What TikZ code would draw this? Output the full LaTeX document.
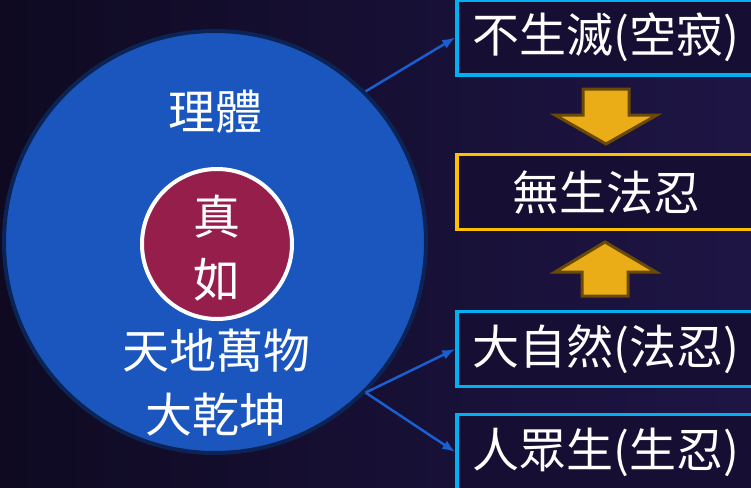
\documentclass[tikz,border=0pt]{standalone}
\usepackage{fontspec}
\newfontfamily\cjk{Noto Sans CJK TC}
\usetikzlibrary{arrows.meta}

\definecolor{bgdark}{HTML}{0F0A22}
\definecolor{bglight}{HTML}{1E1545}
\definecolor{tiyiblue}{HTML}{1A56BE}
\definecolor{tiyirim}{HTML}{0B2455}
\definecolor{zhenred}{HTML}{961E4B}
\definecolor{boxfill}{HTML}{170E33}
\definecolor{boxcyan}{HTML}{00B0F0}
\definecolor{boxgold}{HTML}{FFC000}
\definecolor{linkblue}{HTML}{1A5FCF}
\definecolor{arrfill}{HTML}{EAAD17}
\definecolor{arrrim}{HTML}{6B4A05}

\tikzset{
  rimbox/.style={rectangle, fill=boxfill, line width=3.5pt, minimum width=298pt,
    minimum height=75pt, text=white, inner sep=0pt,
    font=\cjk\fontsize{47}{50}\selectfont},
  circtext/.style={text=white, inner sep=0pt, font=\cjk\fontsize{47}{50}\selectfont},
  blockarr/.style={fill=arrfill, draw=arrrim, line width=3pt, line join=miter},
  link/.style={-{Latex[length=13pt,width=10pt]}, draw=linkblue, line width=2.5pt},
}

\begin{document}
\begin{tikzpicture}[x=1pt,y=-1pt]
  \useasboundingbox (0,0) rectangle (751,487);
  \clip (0,0) rectangle (751,487);
  \shade[left color=bgdark, right color=bglight] (0,0) rectangle (751,487);

  % left: the body and its core
  \node (tiyi) [circle, fill=tiyiblue, draw=tiyirim, line width=4pt, minimum size=422pt] at (215,242) {};
  \node (zhenru) [circle, fill=zhenred, draw=white, line width=4pt, minimum size=150pt] at (217,244) {};
  \node (zhen) [circtext] at (217,217) {真};
  \node (ru) [circtext] at (217,280) {如};
  \node (liti) [circtext] at (215,112) {理體};
  \node (wanwu) [circtext] at (216,351) {天地萬物};
  \node (qiankun) [circtext] at (216,415) {大乾坤};

  % right: the four boxes
  \node (bushengmie) [rimbox, draw=boxcyan] at (606,37.5) {不生滅(空寂)};
  \node (wusheng) [rimbox, draw=boxgold] at (606,192) {無生法忍};
  \node (daziran) [rimbox, draw=boxcyan] at (606,349) {大自然(法忍)};
  \node (renzhong) [rimbox, draw=boxcyan] at (606,452) {人眾生(生忍)};

  \draw[blockarr] (583,89) -- (629,89) -- (629,115) -- (657,115) -- (606,144)
    -- (555,115) -- (583,115) -- cycle;
  \draw[blockarr] (605,242) -- (656,272) -- (628,272) -- (628,296) -- (582,296)
    -- (582,272) -- (555,272) -- cycle;

  \draw[link] (tiyi.45) -- (bushengmie.west);
  \draw[link] (tiyi.-45) -- (daziran.west);
  \draw[link] (tiyi.-45) -- (renzhong.west);
\end{tikzpicture}
\end{document}
